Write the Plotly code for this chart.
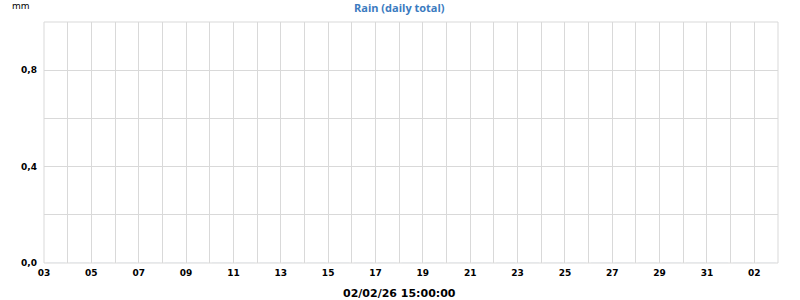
import plotly.graph_objects as go
import pandas as pd

dates = pd.date_range("2026-01-03", "2026-02-02", freq="D")
rain = [0.0] * len(dates)

y_ticks = [0.0, 0.2, 0.4, 0.6, 0.8, 1.0]
y_labels = ["0,0", "", "0,4", "", "0,8", ""]
x_ticks = list(pd.date_range("2026-01-03", "2026-02-03", freq="D"))
x_labels = [d.strftime("%d") if i % 2 == 0 else "" for i, d in enumerate(x_ticks)]

fig = go.Figure()
fig.add_trace(go.Bar(x=dates + pd.Timedelta(hours=12), y=rain, marker_color="#3b7bbf", showlegend=False))

fig.update_layout(
    width=800, height=300,
    margin=dict(l=44, r=22, t=22, b=37),
    paper_bgcolor="white", plot_bgcolor="white",
    xaxis=dict(range=[x_ticks[0], x_ticks[-1]], tickvals=x_ticks, ticktext=x_labels,
               showgrid=True, gridcolor="#d9d9d9", gridwidth=1, zeroline=False,
               showline=False, ticks="", ticklabelstandoff=3,
               tickfont=dict(family="DejaVu Sans", size=9, color="#000", weight="bold")),
    yaxis=dict(range=[0, 1.0], tickvals=y_ticks, ticktext=y_labels,
               showgrid=True, gridcolor="#d9d9d9", gridwidth=1, zeroline=False,
               showline=False, ticks="", ticklabelstandoff=6,
               tickfont=dict(family="DejaVu Sans", size=9, color="#000", weight="bold")),
    annotations=[
        dict(text="Rain (daily total)", xref="paper", yref="paper", x=0.485, y=1.0, yshift=15,
             yanchor="middle", showarrow=False,
             font=dict(family="Open Sans", size=11, color="#3b7bbf", weight="bold")),
        dict(text="mm", xref="paper", yref="paper", x=-0.047, y=1.0, yshift=16, xanchor="left",
             yanchor="middle", showarrow=False, font=dict(family="DejaVu Sans", size=9, color="#000")),
        dict(text="02/02/26 15:00:00", xref="paper", yref="paper", x=0.485, y=0, yshift=-30,
             yanchor="middle", showarrow=False,
             font=dict(family="DejaVu Sans", size=11, color="#000", weight="bold")),
    ],
    shapes=[
        dict(type="line", xref="paper", yref="paper", x0=0, x1=1, y0=1, y1=1, line=dict(color="#d9d9d9", width=1)),
        dict(type="line", xref="paper", yref="paper", x0=1, x1=1, y0=0, y1=1, line=dict(color="#d9d9d9", width=1)),
        dict(type="line", xref="paper", yref="paper", x0=0, x1=0, y0=0, y1=1, line=dict(color="#d9d9d9", width=1)),
        dict(type="line", xref="paper", yref="paper", x0=0, x1=1, y0=0, y1=0, line=dict(color="#d9d9d9", width=1)),
    ],
)
fig.write_html("out.html")
